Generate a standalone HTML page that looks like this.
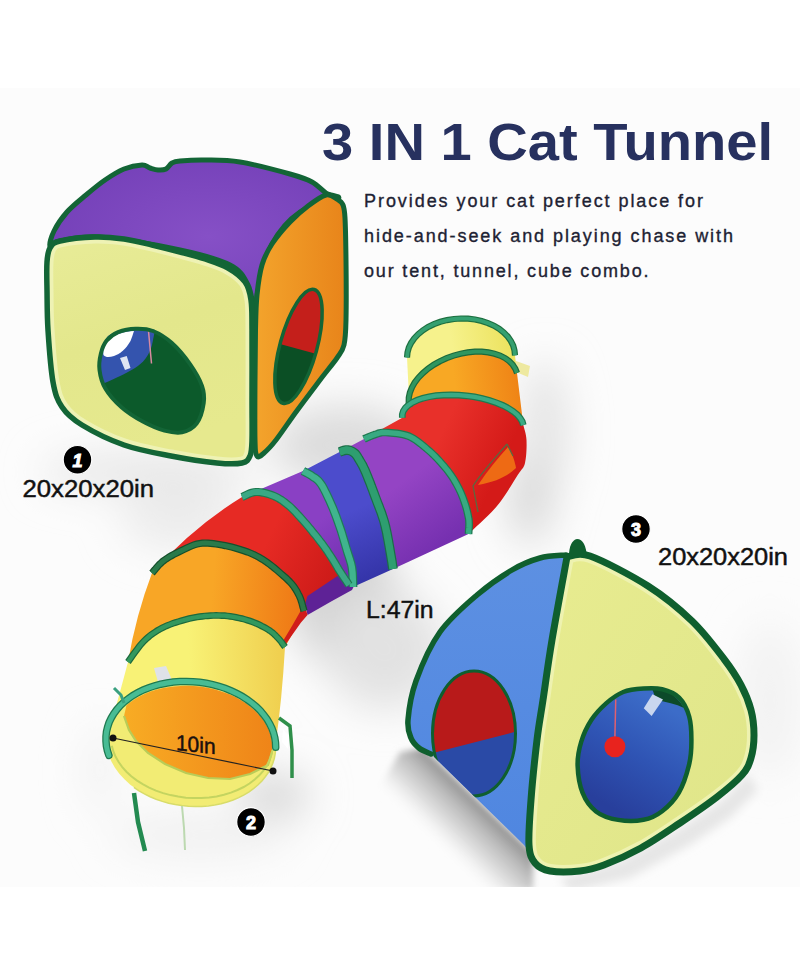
<!DOCTYPE html>
<html><head><meta charset="utf-8"><style>
html,body{margin:0;padding:0;background:#fff;}
svg{display:block;}
</style></head><body>
<svg width="800" height="977" viewBox="0 0 800 977">
<defs>
<linearGradient id="gInt" x1="0" y1="0" x2="1" y2="0"><stop offset="0" stop-color="#f8ac24"/><stop offset="1" stop-color="#ef8418"/></linearGradient>
<linearGradient id="gCubeY" x1="0" y1="0" x2="0.3" y2="1"><stop offset="0" stop-color="#e8ec98"/><stop offset="0.5" stop-color="#e3e78c"/><stop offset="1" stop-color="#e6e98e"/></linearGradient>
<linearGradient id="gCubeO" x1="0" y1="0" x2="1" y2="0"><stop offset="0" stop-color="#f3a42c"/><stop offset="1" stop-color="#e8841a"/></linearGradient>
<radialGradient id="gCubeP" cx="0.55" cy="0.5" r="0.6"><stop offset="0" stop-color="#8650c6"/><stop offset="1" stop-color="#7440b8"/></radialGradient>
<linearGradient id="gTentB" x1="0" y1="0" x2="0" y2="1"><stop offset="0" stop-color="#5d90e2"/><stop offset="1" stop-color="#4f86e0"/></linearGradient>
<linearGradient id="gTentY" x1="0" y1="0" x2="1" y2="1"><stop offset="0" stop-color="#e8ec90"/><stop offset="1" stop-color="#dfe589"/></linearGradient>
<linearGradient id="gHoleB" x1="0.7" y1="0.1" x2="0.3" y2="0.9"><stop offset="0" stop-color="#3c6cc8"/><stop offset="0.5" stop-color="#2f54b4"/><stop offset="1" stop-color="#283f9c"/></linearGradient>
<filter id="bl20" x="-50%" y="-50%" width="200%" height="200%"><feGaussianBlur stdDeviation="20"/></filter>
<filter id="bl10" x="-50%" y="-50%" width="200%" height="200%"><feGaussianBlur stdDeviation="10"/></filter>
<linearGradient id="gShT" gradientUnits="userSpaceOnUse" x1="478" y1="799" x2="432" y2="846"><stop offset="0" stop-color="#8e8e8e"/><stop offset="0.3" stop-color="#bdbdbd"/><stop offset="0.7" stop-color="#ececec"/><stop offset="1" stop-color="#ffffff" stop-opacity="0"/></linearGradient>
<filter id="bl3" x="-50%" y="-50%" width="200%" height="200%"><feGaussianBlur stdDeviation="3"/></filter>
<filter id="bl5" x="-50%" y="-50%" width="200%" height="200%"><feGaussianBlur stdDeviation="5"/></filter>
<clipPath id="photo"><rect x="0" y="0" width="800" height="887"/></clipPath>
<clipPath id="ohole"><ellipse cx="298.5" cy="346.4" rx="18.5" ry="59"/></clipPath>
<clipPath id="rhole"><ellipse cx="474" cy="733.5" rx="41.5" ry="62.5"/></clipPath>
<clipPath id="cubeYclip"><path d="M47.0,262.0 C47.5,255.0 47.8,251.5 50.0,248.0 C52.2,244.5 52.5,242.8 60.0,241.0 C67.5,239.2 84.3,237.3 95.0,237.0 C105.7,236.7 114.5,237.7 124.0,239.0 C133.5,240.3 142.7,242.8 152.0,245.0 C161.3,247.2 171.2,249.7 180.0,252.0 C188.8,254.3 197.0,256.3 205.0,259.0 C213.0,261.7 221.3,264.2 228.0,268.0 C234.7,271.8 241.2,276.7 245.0,282.0 C248.8,287.3 249.8,292.0 251.0,300.0 C252.2,308.0 251.8,313.3 252.0,330.0 C252.2,346.7 252.0,381.7 252.0,400.0 C252.0,418.3 252.3,430.7 252.0,440.0 C251.7,449.3 251.7,452.2 250.0,456.0 C248.3,459.8 247.5,461.8 242.0,463.0 C236.5,464.2 228.8,464.2 217.0,463.0 C205.2,461.8 186.5,459.0 171.0,456.0 C155.5,453.0 138.8,450.2 124.0,445.0 C109.2,439.8 92.3,431.3 82.0,425.0 C71.7,418.7 66.8,414.2 62.0,407.0 C57.2,399.8 55.3,394.8 53.0,382.0 C50.7,369.2 49.0,345.3 48.0,330.0 C47.0,314.7 47.2,301.3 47.0,290.0 C46.8,278.7 46.5,269.0 47.0,262.0 Z"/></clipPath>
<clipPath id="tentYclip"><path d="M567.0,557.0 C570.8,556.8 576.5,551.2 590.0,556.0 C603.5,560.8 631.0,575.2 648.0,586.0 C665.0,596.8 679.3,608.8 692.0,621.0 C704.7,633.2 715.8,648.3 724.0,659.0 C732.2,669.7 736.5,676.5 741.0,685.0 C745.5,693.5 748.8,701.7 751.0,710.0 C753.2,718.3 754.0,727.0 754.0,735.0 C754.0,743.0 753.0,751.3 751.0,758.0 C749.0,764.7 747.7,768.5 742.0,775.0 C736.3,781.5 727.3,789.0 717.0,797.0 C706.7,805.0 692.7,814.5 680.0,823.0 C667.3,831.5 653.7,841.0 641.0,848.0 C628.3,855.0 614.2,861.2 604.0,865.0 C593.8,868.8 589.0,870.0 580.0,871.0 C571.0,872.0 557.5,872.3 550.0,871.0 C542.5,869.7 538.5,867.3 535.0,863.0 C531.5,858.7 529.7,855.5 529.0,845.0 C528.3,834.5 529.7,817.5 531.0,800.0 C532.3,782.5 535.0,756.7 537.0,740.0 C539.0,723.3 540.5,716.7 543.0,700.0 C545.5,683.3 548.0,663.8 552.0,640.0 C556.0,616.2 564.5,570.8 567.0,557.0 Z"/></clipPath>
<clipPath id="tentBclip"><path d="M566.0,555.0 C561.7,555.5 549.0,555.5 540.0,558.0 C531.0,560.5 522.5,563.8 512.0,570.0 C501.5,576.2 489.0,584.7 477.0,595.0 C465.0,605.3 450.2,617.7 440.0,632.0 C429.8,646.3 421.3,666.3 416.0,681.0 C410.7,695.7 408.8,710.5 408.0,720.0 C407.2,729.5 409.2,733.3 411.0,738.0 C412.8,742.7 415.7,745.3 419.0,748.0 C422.3,750.7 429.0,753.0 431.0,754.0 L524,845 C528,850 531,855 531,860 C530.7,857.5 529.0,855.0 529.0,845.0 C529.0,835.0 529.7,817.5 531.0,800.0 C532.3,782.5 535.0,756.7 537.0,740.0 C539.0,723.3 540.5,716.7 543.0,700.0 C545.5,683.3 548.2,664.2 552.0,640.0 C555.8,615.8 563.7,569.2 566.0,555.0 Z"/></clipPath>
<linearGradient id="sg0" gradientUnits="userSpaceOnUse" x1="408.2" y1="382.2" x2="516.0" y2="364.2"><stop offset="0" stop-color="#f6f28c"/><stop offset="0.45" stop-color="#f6f28c"/><stop offset="1" stop-color="#ece25e"/></linearGradient>
<linearGradient id="sg1" gradientUnits="userSpaceOnUse" x1="405.9" y1="412.4" x2="520.1" y2="399.1"><stop offset="0" stop-color="#f8a824"/><stop offset="0.45" stop-color="#f8a824"/><stop offset="1" stop-color="#ef8416"/></linearGradient>
<linearGradient id="sg2" gradientUnits="userSpaceOnUse" x1="383.1" y1="428.1" x2="495.0" y2="479.9"><stop offset="0" stop-color="#e8302a"/><stop offset="0.45" stop-color="#e8302a"/><stop offset="1" stop-color="#d41a18"/></linearGradient>
<linearGradient id="sg3" gradientUnits="userSpaceOnUse" x1="351.6" y1="444.9" x2="430.6" y2="551.7"><stop offset="0" stop-color="#9444c4"/><stop offset="0.45" stop-color="#9444c4"/><stop offset="1" stop-color="#7630b0"/></linearGradient>
<linearGradient id="sg4" gradientUnits="userSpaceOnUse" x1="321.2" y1="461.2" x2="373.1" y2="578.4"><stop offset="0" stop-color="#4c4ccc"/><stop offset="0.45" stop-color="#4c4ccc"/><stop offset="1" stop-color="#3434a8"/></linearGradient>
<linearGradient id="sg5" gradientUnits="userSpaceOnUse" x1="272.5" y1="484.0" x2="350.8" y2="587.5"><stop offset="0" stop-color="#8a40c4"/><stop offset="0.45" stop-color="#8a40c4"/><stop offset="1" stop-color="#6c2cac"/></linearGradient>
<linearGradient id="sg6" gradientUnits="userSpaceOnUse" x1="197.0" y1="535.0" x2="327.7" y2="599.0"><stop offset="0" stop-color="#e62a24"/><stop offset="0.45" stop-color="#e62a24"/><stop offset="1" stop-color="#cc1a18"/></linearGradient>
<linearGradient id="sg7" gradientUnits="userSpaceOnUse" x1="140.0" y1="617.5" x2="295.4" y2="629.0"><stop offset="0" stop-color="#f8a626"/><stop offset="0.45" stop-color="#f8a626"/><stop offset="1" stop-color="#ef7a16"/></linearGradient>
<linearGradient id="sg8" gradientUnits="userSpaceOnUse" x1="117.0" y1="702.0" x2="280.3" y2="695.3"><stop offset="0" stop-color="#f8f276"/><stop offset="0.45" stop-color="#f8f276"/><stop offset="1" stop-color="#f0d050"/></linearGradient>
</defs>
<rect width="800" height="977" fill="#ffffff"/>
<!-- background shading -->
<rect x="0" y="88" width="800" height="799" fill="#fcfcfc"/>
<g clip-path="url(#photo)">
<g filter="url(#bl20)">
<ellipse cx="345" cy="600" rx="55" ry="70" fill="#d2d2d2"/>
<ellipse cx="385" cy="650" rx="60" ry="60" fill="#e2e2e2"/>
<ellipse cx="545" cy="430" rx="22" ry="70" fill="#e2e2e2"/>
<ellipse cx="530" cy="500" rx="22" ry="45" fill="#d8d8d8"/>
<ellipse cx="345" cy="445" rx="75" ry="40" fill="#dcdcdc"/>
<ellipse cx="180" cy="520" rx="60" ry="30" fill="#ececec"/>
<ellipse cx="150" cy="472" rx="110" ry="22" fill="#e8e8e8"/>
<ellipse cx="100" cy="770" rx="14" ry="45" fill="#f0f0f0"/>
<ellipse cx="275" cy="795" rx="35" ry="22" fill="#d6d6d6"/>
<ellipse cx="200" cy="835" rx="90" ry="22" fill="#f0f0f0"/>
<ellipse cx="770" cy="700" rx="30" ry="80" fill="#f2f2f2"/>
</g>
<path d="M424,748 L533,853 L533,890 L455,890 L372,800 L400,752 Z" fill="url(#gShT)" filter="url(#bl3)"/>
<path d="M560,878 L620,861 L680,828 L722,800 L748,774 L758,790 L730,818 L690,845 L630,878 L570,892 Z" fill="#e6e6e6" filter="url(#bl5)"/>
</g>
<!-- CUBE -->
<g id="cube" stroke-linejoin="round">
<path d="M50.0,246.0 C49.0,244.3 51.2,236.7 54.0,231.0 C56.8,225.3 61.7,218.0 67.0,212.0 C72.3,206.0 79.7,200.3 86.0,195.0 C92.3,189.7 98.7,184.3 105.0,180.0 C111.3,175.7 117.8,171.5 124.0,169.0 C130.2,166.5 137.7,165.2 142.0,165.0 C146.3,164.8 147.3,167.2 150.0,168.0 C152.7,168.8 155.3,169.8 158.0,170.0 C160.7,170.2 163.7,170.2 166.0,169.0 C168.3,167.8 169.7,164.3 172.0,163.0 C174.3,161.7 174.5,161.5 180.0,161.0 C185.5,160.5 195.0,159.8 205.0,160.0 C215.0,160.2 225.8,159.7 240.0,162.0 C254.2,164.3 278.0,170.7 290.0,174.0 C302.0,177.3 306.0,178.8 312.0,182.0 C318.0,185.2 321.7,190.2 326.0,193.0 C330.3,195.8 342.3,195.8 338.0,199.0 C333.7,202.2 311.0,204.5 300.0,212.0 C289.0,219.5 279.0,231.0 272.0,244.0 C265.0,257.0 260.8,278.5 258.0,290.0 C255.2,301.5 256.7,313.8 255.0,313.0 C253.3,312.2 252.2,293.0 248.0,285.0 C243.8,277.0 241.3,270.8 230.0,265.0 C218.7,259.2 201.7,254.7 180.0,250.0 C158.3,245.3 120.0,238.5 100.0,237.0 C80.0,235.5 68.3,239.5 60.0,241.0 C51.7,242.5 51.0,247.7 50.0,246.0 Z" fill="url(#gCubeP)" stroke="#136536" stroke-width="5"/>
<path d="M326.0,195.0 C330.8,193.8 334.2,197.3 337.0,199.0 C339.8,200.7 341.7,201.8 343.0,205.0 C344.3,208.2 344.5,208.8 345.0,218.0 C345.5,227.2 345.8,243.0 346.0,260.0 C346.2,277.0 346.3,305.8 346.0,320.0 C345.7,334.2 345.5,338.7 344.0,345.0 C342.5,351.3 341.0,352.2 337.0,358.0 C333.0,363.8 326.8,371.0 320.0,380.0 C313.2,389.0 303.3,402.0 296.0,412.0 C288.7,422.0 281.3,433.2 276.0,440.0 C270.7,446.8 267.2,450.3 264.0,453.0 C260.8,455.7 258.5,458.2 257.0,456.0 C255.5,453.8 255.3,452.7 255.0,440.0 C254.7,427.3 254.9,398.3 255.0,380.0 C255.1,361.7 255.2,344.2 255.5,330.0 C255.8,315.8 255.9,305.8 257.0,295.0 C258.1,284.2 259.5,273.5 262.0,265.0 C264.5,256.5 267.3,251.2 272.0,244.0 C276.7,236.8 284.0,228.3 290.0,222.0 C296.0,215.7 302.0,210.5 308.0,206.0 C314.0,201.5 321.2,196.2 326.0,195.0 Z" fill="url(#gCubeO)" stroke="#136536" stroke-width="5"/>
<path d="M47.0,262.0 C47.5,255.0 47.8,251.5 50.0,248.0 C52.2,244.5 52.5,242.8 60.0,241.0 C67.5,239.2 84.3,237.3 95.0,237.0 C105.7,236.7 114.5,237.7 124.0,239.0 C133.5,240.3 142.7,242.8 152.0,245.0 C161.3,247.2 171.2,249.7 180.0,252.0 C188.8,254.3 197.0,256.3 205.0,259.0 C213.0,261.7 221.3,264.2 228.0,268.0 C234.7,271.8 241.2,276.7 245.0,282.0 C248.8,287.3 249.8,292.0 251.0,300.0 C252.2,308.0 251.8,313.3 252.0,330.0 C252.2,346.7 252.0,381.7 252.0,400.0 C252.0,418.3 252.3,430.7 252.0,440.0 C251.7,449.3 251.7,452.2 250.0,456.0 C248.3,459.8 247.5,461.8 242.0,463.0 C236.5,464.2 228.8,464.2 217.0,463.0 C205.2,461.8 186.5,459.0 171.0,456.0 C155.5,453.0 138.8,450.2 124.0,445.0 C109.2,439.8 92.3,431.3 82.0,425.0 C71.7,418.7 66.8,414.2 62.0,407.0 C57.2,399.8 55.3,394.8 53.0,382.0 C50.7,369.2 49.0,345.3 48.0,330.0 C47.0,314.7 47.2,301.3 47.0,290.0 C46.8,278.7 46.5,269.0 47.0,262.0 Z" fill="url(#gCubeY)"/>
<path d="M47.0,262.0 C47.5,255.0 47.8,251.5 50.0,248.0 C52.2,244.5 52.5,242.8 60.0,241.0 C67.5,239.2 84.3,237.3 95.0,237.0 C105.7,236.7 114.5,237.7 124.0,239.0 C133.5,240.3 142.7,242.8 152.0,245.0 C161.3,247.2 171.2,249.7 180.0,252.0 C188.8,254.3 197.0,256.3 205.0,259.0 C213.0,261.7 221.3,264.2 228.0,268.0 C234.7,271.8 241.2,276.7 245.0,282.0 C248.8,287.3 249.8,292.0 251.0,300.0 C252.2,308.0 251.8,313.3 252.0,330.0 C252.2,346.7 252.0,381.7 252.0,400.0 C252.0,418.3 252.3,430.7 252.0,440.0 C251.7,449.3 251.7,452.2 250.0,456.0 C248.3,459.8 247.5,461.8 242.0,463.0 C236.5,464.2 228.8,464.2 217.0,463.0 C205.2,461.8 186.5,459.0 171.0,456.0 C155.5,453.0 138.8,450.2 124.0,445.0 C109.2,439.8 92.3,431.3 82.0,425.0 C71.7,418.7 66.8,414.2 62.0,407.0 C57.2,399.8 55.3,394.8 53.0,382.0 C50.7,369.2 49.0,345.3 48.0,330.0 C47.0,314.7 47.2,301.3 47.0,290.0 C46.8,278.7 46.5,269.0 47.0,262.0 Z" fill="none" stroke="#eef2b4" stroke-width="13" clip-path="url(#cubeYclip)"/>
<path d="M47.0,262.0 C47.5,255.0 47.8,251.5 50.0,248.0 C52.2,244.5 52.5,242.8 60.0,241.0 C67.5,239.2 84.3,237.3 95.0,237.0 C105.7,236.7 114.5,237.7 124.0,239.0 C133.5,240.3 142.7,242.8 152.0,245.0 C161.3,247.2 171.2,249.7 180.0,252.0 C188.8,254.3 197.0,256.3 205.0,259.0 C213.0,261.7 221.3,264.2 228.0,268.0 C234.7,271.8 241.2,276.7 245.0,282.0 C248.8,287.3 249.8,292.0 251.0,300.0 C252.2,308.0 251.8,313.3 252.0,330.0 C252.2,346.7 252.0,381.7 252.0,400.0 C252.0,418.3 252.3,430.7 252.0,440.0 C251.7,449.3 251.7,452.2 250.0,456.0 C248.3,459.8 247.5,461.8 242.0,463.0 C236.5,464.2 228.8,464.2 217.0,463.0 C205.2,461.8 186.5,459.0 171.0,456.0 C155.5,453.0 138.8,450.2 124.0,445.0 C109.2,439.8 92.3,431.3 82.0,425.0 C71.7,418.7 66.8,414.2 62.0,407.0 C57.2,399.8 55.3,394.8 53.0,382.0 C50.7,369.2 49.0,345.3 48.0,330.0 C47.0,314.7 47.2,301.3 47.0,290.0 C46.8,278.7 46.5,269.0 47.0,262.0 Z" fill="none" stroke="#136536" stroke-width="5.5"/>
<path d="M99.5,369.9 C98.7,364.1 99.6,358.8 100.8,353.9 C101.9,349.1 103.6,344.5 106.5,340.8 C109.4,337.2 113.3,334.2 118.1,332.1 C123.0,330.1 129.8,328.8 135.6,328.7 C141.4,328.5 147.0,328.6 153.0,331.0 C159.0,333.4 165.4,337.2 171.6,342.8 C177.8,348.3 185.1,357.1 190.2,364.3 C195.2,371.5 199.8,379.3 202.0,385.8 C204.3,392.3 204.6,396.9 203.7,403.2 C202.8,409.5 200.2,418.8 196.6,423.6 C192.9,428.5 187.3,431.1 182.0,432.3 C176.6,433.4 171.0,432.3 164.5,430.6 C158.0,428.8 150.1,425.4 142.9,421.5 C135.8,417.7 127.8,412.7 121.5,407.2 C115.3,401.7 109.1,394.9 105.5,388.7 C101.8,382.5 100.2,375.7 99.5,369.9 Z" fill="#0c5a2b"/>
<path d="M102,384 C112,380 125,374 135,368 C143,363 149,356 152,345 L155,330 C140,326 120,328 108,336 C100,346 98,362 100,375 Z" fill="#3454ae"/>
<path d="M103.5,355 C106,358 110,357 114,356 C120,354 126,349 130.5,341 C132,337 133,334 134,331 C124,331 112,335 106,342 C103,347 103,351 103.5,355 Z" fill="#ffffff"/>
<path d="M120,358 L126.75,356 L130.5,368 L125,370 Z" fill="#dfe5f2"/>
<path d="M148.5,331 L151.5,363.5" stroke="#d88aa0" stroke-width="1.5"/>
<path d="M99.5,369.9 C98.7,364.1 99.6,358.8 100.8,353.9 C101.9,349.1 103.6,344.5 106.5,340.8 C109.4,337.2 113.3,334.2 118.1,332.1 C123.0,330.1 129.8,328.8 135.6,328.7 C141.4,328.5 147.0,328.6 153.0,331.0 C159.0,333.4 165.4,337.2 171.6,342.8 C177.8,348.3 185.1,357.1 190.2,364.3 C195.2,371.5 199.8,379.3 202.0,385.8 C204.3,392.3 204.6,396.9 203.7,403.2 C202.8,409.5 200.2,418.8 196.6,423.6 C192.9,428.5 187.3,431.1 182.0,432.3 C176.6,433.4 171.0,432.3 164.5,430.6 C158.0,428.8 150.1,425.4 142.9,421.5 C135.8,417.7 127.8,412.7 121.5,407.2 C115.3,401.7 109.1,394.9 105.5,388.7 C101.8,382.5 100.2,375.7 99.5,369.9 Z" fill="none" stroke="#136536" stroke-width="4"/>
<g transform="rotate(15.3 298.5 346.4)">
<ellipse cx="298.5" cy="346.4" rx="18.5" ry="59" fill="#0b4f25"/>
<path d="M280,349 L317,349 L317,280 L280,280 Z" fill="#c41f1b" clip-path="url(#ohole)"/>
<ellipse cx="298.5" cy="346.4" rx="18.5" ry="59" fill="none" stroke="#136536" stroke-width="3.5"/>
</g>
</g>

<!-- TUNNEL -->
<g id="tunnel">
<path d="M407.0,357.5 L407.5,352.5 L408.8,347.6 L411.1,342.9 L414.2,338.4 L418.2,334.2 L422.8,330.4 L428.1,327.0 L434.0,324.1 L440.3,321.8 L447.0,320.1 L454.0,319.0 L461.0,318.5 L468.0,318.7 L475.0,319.5 L481.7,321.0 L488.0,323.1 L493.9,325.7 L499.2,328.9 L503.8,332.5 L507.8,336.6 L510.9,341.0 L513.2,345.6 L514.5,350.5 L515.0,355.4 L517.0,373.0 L517.0,373.0 L515.3,368.7 L512.7,364.7 L509.2,361.1 L505.0,358.1 L500.0,355.6 L494.4,353.7 L488.3,352.4 L481.8,351.7 L474.9,351.7 L467.8,352.4 L460.7,353.7 L453.6,355.6 L446.7,358.1 L440.0,361.2 L433.8,364.7 L428.0,368.7 L422.9,373.1 L418.4,377.7 L414.7,382.5 L411.9,387.5 L409.9,392.5 L408.8,397.5 L408.7,402.4 L409.5,407.0 Z" fill="url(#sg0)"/>
<path d="M409.5,407.0 L408.7,402.4 L408.8,397.5 L409.9,392.5 L411.9,387.5 L414.7,382.5 L418.4,377.7 L422.9,373.1 L428.0,368.7 L433.8,364.7 L440.0,361.2 L446.7,358.1 L453.6,355.6 L460.7,353.7 L467.8,352.4 L474.9,351.7 L481.8,351.7 L488.3,352.4 L494.4,353.7 L500.0,355.6 L505.0,358.1 L509.2,361.1 L512.7,364.7 L515.3,368.7 L517.0,373.0 L523.3,425.1 L523.3,425.1 L522.3,421.6 L520.2,418.2 L517.2,414.7 L513.2,411.4 L508.4,408.3 L502.8,405.4 L496.5,402.8 L489.6,400.5 L482.3,398.5 L474.6,396.9 L466.7,395.8 L458.8,395.1 L450.9,394.8 L443.3,395.1 L436.0,395.7 L429.1,396.8 L422.8,398.3 L417.2,400.2 L412.4,402.5 L408.4,405.1 L405.4,408.0 L403.3,411.1 L402.3,414.4 L402.3,417.8 Z" fill="url(#sg1)"/>
<path d="M402.3,417.8 L402.3,414.4 L403.3,411.1 L405.4,408.0 L408.4,405.1 L412.4,402.5 L417.2,400.2 L422.8,398.3 L429.1,396.8 L436.0,395.7 L443.3,395.1 L450.9,394.8 L458.8,395.1 L466.7,395.8 L474.6,396.9 L482.3,398.5 L489.6,400.5 L496.5,402.8 L502.8,405.4 L508.4,408.3 L513.2,411.4 L517.2,414.7 L520.2,418.2 L522.3,421.6 L523.3,425.1 C523.8,427.6 526.2,433.7 526.5,440.0 C526.8,446.3 526.5,457.2 525.0,463.0 C523.5,468.8 522.4,467.8 517.7,475.0 C513.0,482.2 505.2,496.2 497.0,506.0 C488.8,515.8 473.2,529.3 468.5,534.0 L468.5,534.0 L468.6,532.9 L468.7,531.4 L468.8,529.6 L469.0,527.7 L469.1,525.5 L469.1,523.3 L469.0,521.0 L468.8,518.8 L468.3,516.4 L467.8,513.9 L467.2,511.3 L466.5,508.6 L465.7,505.9 L464.8,503.2 L463.9,500.5 L463.0,498.0 L462.0,495.5 L461.0,493.1 L459.9,490.7 L458.7,488.3 L457.5,486.0 L456.3,483.7 L455.0,481.5 L453.8,479.4 L452.5,477.4 L451.2,475.4 L449.8,473.5 L448.5,471.7 L447.1,469.9 L445.6,468.1 L444.1,466.3 L442.5,464.4 L440.8,462.5 L439.1,460.6 L437.3,458.7 L435.5,456.8 L433.6,454.9 L431.6,453.0 L429.6,451.2 L427.5,449.4 L425.4,447.6 L423.2,445.8 L420.9,443.9 L418.6,442.1 L416.2,440.4 L413.8,438.8 L411.3,437.4 L408.8,436.2 L406.0,435.3 L403.1,434.5 L400.0,433.9 L396.9,433.4 L393.8,433.1 L391.0,432.8 L388.3,432.6 L386.0,432.5 L384.1,432.5 L382.4,432.5 L381.0,432.7 L379.8,433.0 L378.6,433.3 L377.5,433.7 L376.3,434.1 L375.0,434.5 L373.5,435.0 L372.0,435.6 L370.4,436.2 L368.8,436.9 L367.3,437.5 L366.0,438.1 L364.8,438.6 L364.0,439.0 Z" fill="url(#sg2)"/>
<path d="M364.0,439.0 L364.8,438.6 L366.0,438.1 L367.3,437.5 L368.8,436.9 L370.4,436.2 L372.0,435.6 L373.5,435.0 L375.0,434.5 L376.3,434.1 L377.5,433.7 L378.6,433.3 L379.8,433.0 L381.0,432.7 L382.4,432.5 L384.1,432.5 L386.0,432.5 L388.3,432.6 L391.0,432.8 L393.8,433.1 L396.9,433.4 L400.0,433.9 L403.1,434.5 L406.0,435.3 L408.8,436.2 L411.3,437.4 L413.8,438.8 L416.2,440.4 L418.6,442.1 L420.9,443.9 L423.2,445.8 L425.4,447.6 L427.5,449.4 L429.6,451.2 L431.6,453.0 L433.6,454.9 L435.5,456.8 L437.3,458.7 L439.1,460.6 L440.8,462.5 L442.5,464.4 L444.1,466.3 L445.6,468.1 L447.1,469.9 L448.5,471.7 L449.8,473.5 L451.2,475.4 L452.5,477.4 L453.8,479.4 L455.0,481.5 L456.3,483.7 L457.5,486.0 L458.7,488.3 L459.9,490.7 L461.0,493.1 L462.0,495.5 L463.0,498.0 L463.9,500.5 L464.8,503.2 L465.7,505.9 L466.5,508.6 L467.2,511.3 L467.8,513.9 L468.3,516.4 L468.8,518.8 L469.0,521.0 L469.1,523.3 L469.1,525.5 L469.0,527.7 L468.8,529.6 L468.7,531.4 L468.6,532.9 L468.5,534.0 L393.0,569.0 L393.0,569.0 L392.8,567.6 L392.5,565.9 L392.2,563.9 L391.9,561.6 L391.4,559.0 L391.0,556.3 L390.5,553.5 L390.0,550.6 L389.5,547.5 L388.9,544.2 L388.3,540.7 L387.6,537.0 L386.9,533.3 L386.1,529.6 L385.3,526.0 L384.4,522.5 L383.4,519.1 L382.3,515.8 L381.2,512.4 L379.9,509.1 L378.7,505.9 L377.4,502.6 L376.2,499.4 L375.0,496.2 L373.8,493.0 L372.6,489.7 L371.3,486.4 L370.1,483.1 L368.8,480.0 L367.7,477.0 L366.6,474.3 L365.6,471.9 L364.7,469.9 L363.9,468.2 L363.2,466.7 L362.6,465.4 L361.9,464.3 L361.3,463.2 L360.7,462.1 L360.0,461.0 L359.3,459.8 L358.6,458.7 L358.0,457.6 L357.3,456.5 L356.6,455.5 L355.9,454.6 L355.2,453.7 L354.4,453.0 L353.6,452.4 L352.7,451.8 L351.8,451.3 L350.8,450.9 L349.9,450.5 L348.9,450.3 L347.9,450.1 L347.0,450.0 L346.0,450.0 L345.0,450.2 L343.9,450.5 L342.8,450.8 L341.8,451.2 L340.9,451.5 L340.1,451.8 L339.5,452.0 Z" fill="url(#sg3)"/>
<path d="M339.5,452.0 L340.1,451.8 L340.9,451.5 L341.8,451.2 L342.8,450.8 L343.9,450.5 L345.0,450.2 L346.0,450.0 L347.0,450.0 L347.9,450.1 L348.9,450.3 L349.9,450.5 L350.8,450.9 L351.8,451.3 L352.7,451.8 L353.6,452.4 L354.4,453.0 L355.2,453.7 L355.9,454.6 L356.6,455.5 L357.3,456.5 L358.0,457.6 L358.6,458.7 L359.3,459.8 L360.0,461.0 L360.7,462.1 L361.3,463.2 L361.9,464.3 L362.6,465.4 L363.2,466.7 L363.9,468.2 L364.7,469.9 L365.6,471.9 L366.6,474.3 L367.7,477.0 L368.8,480.0 L370.1,483.1 L371.3,486.4 L372.6,489.7 L373.8,493.0 L375.0,496.2 L376.2,499.4 L377.4,502.6 L378.7,505.9 L379.9,509.1 L381.2,512.4 L382.3,515.8 L383.4,519.1 L384.4,522.5 L385.3,526.0 L386.1,529.6 L386.9,533.3 L387.6,537.0 L388.3,540.7 L388.9,544.2 L389.5,547.5 L390.0,550.6 L390.5,553.5 L391.0,556.3 L391.4,559.0 L391.9,561.6 L392.2,563.9 L392.5,565.9 L392.8,567.6 L393.0,569.0 L353.0,587.0 L353.0,587.0 L353.0,585.5 L352.9,583.6 L352.9,581.2 L352.8,578.6 L352.7,575.9 L352.6,573.1 L352.3,570.4 L352.0,568.0 L351.6,565.8 L351.1,563.6 L350.5,561.6 L349.9,559.5 L349.2,557.4 L348.5,555.2 L347.7,552.9 L347.0,550.5 L346.2,547.9 L345.4,545.1 L344.6,542.3 L343.7,539.3 L342.8,536.3 L341.9,533.3 L341.0,530.4 L340.0,527.5 L339.0,524.7 L338.0,521.8 L337.0,519.0 L336.0,516.1 L334.9,513.3 L333.8,510.5 L332.7,507.7 L331.5,505.0 L330.3,502.2 L329.0,499.3 L327.6,496.4 L326.3,493.6 L324.9,490.9 L323.6,488.3 L322.3,486.0 L321.0,484.0 L319.8,482.4 L318.6,481.0 L317.5,479.9 L316.4,479.0 L315.3,478.2 L314.2,477.5 L313.1,476.8 L312.0,476.0 L310.8,475.2 L309.5,474.4 L308.2,473.7 L306.9,473.0 L305.7,472.4 L304.6,471.8 L303.7,471.4 L303.0,471.0 Z" fill="url(#sg4)"/>
<path d="M303.0,471.0 L303.7,471.4 L304.6,471.8 L305.7,472.4 L306.9,473.0 L308.2,473.7 L309.5,474.4 L310.8,475.2 L312.0,476.0 L313.1,476.8 L314.2,477.5 L315.3,478.2 L316.4,479.0 L317.5,479.9 L318.6,481.0 L319.8,482.4 L321.0,484.0 L322.3,486.0 L323.6,488.3 L324.9,490.9 L326.3,493.6 L327.6,496.4 L329.0,499.3 L330.3,502.2 L331.5,505.0 L332.7,507.7 L333.8,510.5 L334.9,513.3 L336.0,516.1 L337.0,519.0 L338.0,521.8 L339.0,524.7 L340.0,527.5 L341.0,530.4 L341.9,533.3 L342.8,536.3 L343.7,539.3 L344.6,542.3 L345.4,545.1 L346.2,547.9 L347.0,550.5 L347.7,552.9 L348.5,555.2 L349.2,557.4 L349.9,559.5 L350.5,561.6 L351.1,563.6 L351.6,565.8 L352.0,568.0 L352.3,570.4 L352.6,573.1 L352.7,575.9 L352.8,578.6 L352.9,581.2 L352.9,583.6 L353.0,585.5 L353.0,587.0 L349.0,585.0 L349.0,585.0 L348.3,584.0 L347.4,582.6 L346.3,580.9 L345.0,579.1 L343.7,577.2 L342.4,575.2 L341.2,573.3 L340.0,571.5 L338.9,569.8 L337.8,568.0 L336.8,566.2 L335.7,564.4 L334.7,562.7 L333.6,560.9 L332.6,559.2 L331.5,557.5 L330.5,555.9 L329.4,554.3 L328.4,552.8 L327.4,551.2 L326.4,549.7 L325.3,548.2 L324.2,546.6 L323.0,545.0 L321.8,543.3 L320.4,541.6 L319.1,539.9 L317.7,538.1 L316.3,536.3 L314.9,534.5 L313.4,532.8 L312.0,531.0 L310.5,529.2 L309.1,527.5 L307.6,525.7 L306.1,523.9 L304.5,522.1 L303.0,520.4 L301.5,518.7 L300.0,517.0 L298.5,515.4 L297.0,513.8 L295.6,512.2 L294.1,510.7 L292.6,509.2 L291.1,507.7 L289.6,506.3 L288.0,505.0 L286.4,503.7 L284.7,502.4 L283.1,501.2 L281.4,500.0 L279.6,498.9 L277.8,497.8 L276.0,496.9 L274.0,496.0 L271.9,495.2 L269.7,494.4 L267.4,493.7 L265.0,493.1 L262.6,492.6 L260.3,492.2 L258.1,492.0 L256.0,492.0 L254.0,492.2 L251.9,492.7 L249.8,493.4 L247.9,494.2 L246.0,495.1 L244.4,495.9 L243.1,496.6 L242.0,497.0 Z" fill="url(#sg5)"/>
<path d="M242.0,497.0 L243.1,496.6 L244.4,495.9 L246.0,495.1 L247.9,494.2 L249.8,493.4 L251.9,492.7 L254.0,492.2 L256.0,492.0 L258.1,492.0 L260.3,492.2 L262.6,492.6 L265.0,493.1 L267.4,493.7 L269.7,494.4 L271.9,495.2 L274.0,496.0 L276.0,496.9 L277.8,497.8 L279.6,498.9 L281.4,500.0 L283.1,501.2 L284.7,502.4 L286.4,503.7 L288.0,505.0 L289.6,506.3 L291.1,507.7 L292.6,509.2 L294.1,510.7 L295.6,512.2 L297.0,513.8 L298.5,515.4 L300.0,517.0 L301.5,518.7 L303.0,520.4 L304.5,522.1 L306.1,523.9 L307.6,525.7 L309.1,527.5 L310.5,529.2 L312.0,531.0 L313.4,532.8 L314.9,534.5 L316.3,536.3 L317.7,538.1 L319.1,539.9 L320.4,541.6 L321.8,543.3 L323.0,545.0 L324.2,546.6 L325.3,548.2 L326.4,549.7 L327.4,551.2 L328.4,552.8 L329.4,554.3 L330.5,555.9 L331.5,557.5 L332.6,559.2 L333.6,560.9 L334.7,562.7 L335.7,564.4 L336.8,566.2 L337.8,568.0 L338.9,569.8 L340.0,571.5 L341.2,573.3 L342.4,575.2 L343.7,577.2 L345.0,579.1 L346.3,580.9 L347.4,582.6 L348.3,584.0 L349.0,585.0 L304.0,611.0 L304.0,611.0 L303.7,609.9 L303.4,608.5 L302.9,606.9 L302.4,605.0 L301.9,603.0 L301.3,601.1 L300.7,599.2 L300.0,597.5 L299.3,595.9 L298.5,594.4 L297.7,592.8 L296.9,591.3 L296.0,589.8 L295.1,588.4 L294.1,586.9 L293.0,585.5 L291.9,584.1 L290.8,582.9 L289.6,581.6 L288.4,580.4 L287.1,579.1 L285.7,577.8 L284.2,576.5 L282.5,575.0 L280.6,573.4 L278.6,571.6 L276.5,569.8 L274.2,567.9 L271.9,566.0 L269.5,564.2 L267.2,562.5 L265.0,561.0 L262.9,559.6 L260.8,558.4 L258.8,557.2 L256.8,556.1 L254.6,555.0 L252.4,554.0 L250.1,553.0 L247.5,552.0 L244.7,551.0 L241.6,550.0 L238.4,549.0 L235.1,548.0 L231.7,547.1 L228.3,546.3 L225.1,545.6 L222.0,545.0 L219.1,544.5 L216.2,544.0 L213.4,543.6 L210.6,543.3 L207.9,543.1 L205.1,543.0 L202.4,543.2 L199.7,543.5 L196.9,544.1 L194.1,544.9 L191.3,546.0 L188.5,547.2 L185.8,548.5 L183.1,549.8 L180.6,551.0 L178.2,552.2 L176.0,553.3 L173.8,554.4 L171.8,555.5 L169.8,556.6 L168.0,557.8 L166.2,558.9 L164.5,560.1 L162.8,561.4 L161.2,562.8 L159.5,564.4 L157.9,566.1 L156.4,567.8 L155.1,569.4 L153.8,570.9 L152.8,572.1 L152.0,573.0 Q193,527 242.0,497.0 Z" fill="url(#sg6)"/>
<path d="M152.0,573.0 L152.8,572.1 L153.8,570.9 L155.1,569.4 L156.4,567.8 L157.9,566.1 L159.5,564.4 L161.2,562.8 L162.8,561.4 L164.5,560.1 L166.2,558.9 L168.0,557.8 L169.8,556.6 L171.8,555.5 L173.8,554.4 L176.0,553.3 L178.2,552.2 L180.6,551.0 L183.1,549.8 L185.8,548.5 L188.5,547.2 L191.3,546.0 L194.1,544.9 L196.9,544.1 L199.7,543.5 L202.4,543.2 L205.1,543.0 L207.9,543.1 L210.6,543.3 L213.4,543.6 L216.2,544.0 L219.1,544.5 L222.0,545.0 L225.1,545.6 L228.3,546.3 L231.7,547.1 L235.1,548.0 L238.4,549.0 L241.6,550.0 L244.7,551.0 L247.5,552.0 L250.1,553.0 L252.4,554.0 L254.6,555.0 L256.8,556.1 L258.8,557.2 L260.8,558.4 L262.9,559.6 L265.0,561.0 L267.2,562.5 L269.5,564.2 L271.9,566.0 L274.2,567.9 L276.5,569.8 L278.6,571.6 L280.6,573.4 L282.5,575.0 L284.2,576.5 L285.7,577.8 L287.1,579.1 L288.4,580.4 L289.6,581.6 L290.8,582.9 L291.9,584.1 L293.0,585.5 L294.1,586.9 L295.1,588.4 L296.0,589.8 L296.9,591.3 L297.7,592.8 L298.5,594.4 L299.3,595.9 L300.0,597.5 L300.7,599.2 L301.3,601.1 L301.9,603.0 L302.4,605.0 L302.9,606.9 L303.4,608.5 L303.7,609.9 L304.0,611.0 Q296,628 285.0,647.0 L285.0,647.0 L284.5,646.3 L283.8,645.4 L283.0,644.3 L282.1,643.0 L281.2,641.7 L280.1,640.4 L279.1,639.2 L278.0,638.0 L276.9,636.9 L275.9,635.8 L274.8,634.8 L273.7,633.7 L272.5,632.7 L271.1,631.6 L269.7,630.6 L268.0,629.5 L266.2,628.4 L264.2,627.3 L262.0,626.2 L259.8,625.0 L257.4,623.9 L255.0,622.9 L252.5,621.9 L250.0,621.0 L247.4,620.2 L244.7,619.4 L241.9,618.6 L239.0,618.0 L236.1,617.4 L233.2,616.8 L230.3,616.4 L227.5,616.0 L224.7,615.7 L221.8,615.6 L219.0,615.5 L216.2,615.4 L213.3,615.5 L210.5,615.6 L207.7,615.8 L205.0,616.0 L202.3,616.3 L199.7,616.6 L197.1,617.0 L194.5,617.5 L191.9,618.0 L189.3,618.6 L186.7,619.3 L184.0,620.0 L181.3,620.8 L178.5,621.6 L175.6,622.5 L172.8,623.4 L170.0,624.5 L167.2,625.6 L164.6,626.7 L162.0,628.0 L159.5,629.3 L157.2,630.7 L154.9,632.2 L152.6,633.7 L150.4,635.3 L148.3,637.1 L146.1,639.0 L144.0,641.0 L141.8,643.4 L139.5,646.2 L137.2,649.2 L134.9,652.3 L132.7,655.3 L130.8,658.0 L129.2,660.3 L128.0,662.0 Q136,615 152.0,573.0 Z" fill="url(#sg7)"/>
<path d="M128.0,662.0 L129.2,660.3 L130.8,658.0 L132.7,655.3 L134.9,652.3 L137.2,649.2 L139.5,646.2 L141.8,643.4 L144.0,641.0 L146.1,639.0 L148.3,637.1 L150.4,635.3 L152.6,633.7 L154.9,632.2 L157.2,630.7 L159.5,629.3 L162.0,628.0 L164.6,626.7 L167.2,625.6 L170.0,624.5 L172.8,623.4 L175.6,622.5 L178.5,621.6 L181.3,620.8 L184.0,620.0 L186.7,619.3 L189.3,618.6 L191.9,618.0 L194.5,617.5 L197.1,617.0 L199.7,616.6 L202.3,616.3 L205.0,616.0 L207.7,615.8 L210.5,615.6 L213.3,615.5 L216.2,615.4 L219.0,615.5 L221.8,615.6 L224.7,615.7 L227.5,616.0 L230.3,616.4 L233.2,616.8 L236.1,617.4 L239.0,618.0 L241.9,618.6 L244.7,619.4 L247.4,620.2 L250.0,621.0 L252.5,621.9 L255.0,622.9 L257.4,623.9 L259.8,625.0 L262.0,626.2 L264.2,627.3 L266.2,628.4 L268.0,629.5 L269.7,630.6 L271.1,631.6 L272.5,632.7 L273.7,633.7 L274.8,634.8 L275.9,635.8 L276.9,636.9 L278.0,638.0 L279.1,639.2 L280.1,640.4 L281.2,641.7 L282.1,643.0 L283.0,644.3 L283.8,645.4 L284.5,646.3 L285.0,647.0 Q282,700 275.6,743.6 L275.6,743.6 L274.3,735.6 L271.6,727.7 L267.6,720.1 L262.2,712.8 L255.6,706.1 L247.9,700.0 L239.2,694.7 L229.6,690.1 L219.5,686.5 L208.8,683.8 L197.8,682.1 L186.7,681.5 L175.7,681.9 L164.9,683.4 L154.6,685.9 L144.8,689.3 L135.9,693.7 L127.9,698.9 L121.0,704.8 L115.3,711.5 L110.9,718.6 L107.8,726.2 L106.2,734.0 L106.0,742.0 Q118,700 128.0,662.0 Z" fill="url(#sg8)"/>
<path d="M337.5,576 L354,586 L352,590 L332,601 L307.5,615 L305,604 L307.5,596 Z" fill="#5e2296"/>
<path d="M305,606 L307.5,615 L301,622.5 L295,631 L285,645 L283,641 L292,626 L300,612 Z" fill="#d01c1a"/>
<path d="M106.0,742.0 106.0,735.6 107.0,729.3 108.9,723.1 111.7,717.1 115.3,711.5 119.8,706.1 125.0,701.2 131.0,696.7 137.6,692.7 144.8,689.3 152.6,686.5 160.7,684.3 169.2,682.7 177.9,681.8 186.7,681.5 195.6,681.9 204.4,683.0 213.1,684.7 221.5,687.1 229.6,690.1 237.3,693.7 244.5,697.8 251.1,702.4 257.0,707.4 262.2,712.8 266.6,718.6 270.2,724.6 272.9,730.8 274.7,737.2 275.6,743.6 275.6,750.3 274.6,756.8 272.8,763.3 270.0,769.5 266.4,775.4 261.9,780.9 256.7,786.1 250.7,790.7 244.1,794.8 236.9,798.4 229.2,801.4 221.1,803.7 212.6,805.3 203.9,806.3 195.1,806.6 186.2,806.1 177.3,805.0 168.7,803.2 160.2,800.7 152.1,797.6 144.4,793.9 137.2,789.6 130.6,784.9 124.7,779.6 119.5,774.0 115.1,768.0 111.5,761.7 108.7,755.3 106.9,748.7 106.0,742.0 Z" fill="#f2ec74"/>
<path d="M126.5,705.2 130.6,701.9 135.1,698.9 139.9,696.2 145.1,693.8 150.5,691.6 156.2,689.8 162.1,688.3 168.1,687.2 174.3,686.4 180.6,685.9 187.0,685.8 193.4,686.0 199.8,686.6 206.1,687.6 212.3,688.8 218.4,690.4 224.3,692.4 230.0,694.6 235.5,697.1 240.7,700.0 245.6,703.1 250.1,706.4 254.3,709.9 258.1,713.7 261.5,717.6 264.5,721.7 266.9,725.9 269.0,730.3 270.5,734.7 271.6,739.1 272.1,743.6 L272.0,752.0 268.0,765.0 250.0,774.0 230.0,779.0 208.0,778.0 186.0,773.0 165.0,764.0 148.0,753.0 136.0,741.0 129.0,730.0 124.0,716.0 Z" fill="url(#gInt)"/>
<path d="M272.0,752.0 268.0,765.0 250.0,774.0 230.0,779.0 208.0,778.0 186.0,773.0 165.0,764.0 148.0,753.0 136.0,741.0 129.0,730.0 124.0,716.0" fill="none" stroke="#b9cc58" stroke-width="2.2"/>
<path d="M272.3,750.2 271.1,755.6 269.2,760.8 266.6,765.9 263.2,770.8 259.3,775.3 254.7,779.6 249.5,783.5 243.7,787.0 237.5,790.0 230.9,792.6 223.9,794.8 216.6,796.4 209.1,797.5 201.4,798.1 193.6,798.1 185.8,797.7 178.1,796.6 170.5,795.1 163.1,793.1 155.9,790.6 149.1,787.6 142.7,784.2 136.7,780.4 131.3,776.2 126.4,771.7 122.1,766.9 118.5,761.8 115.5,756.6 113.3,751.2 111.8,745.7" fill="none" stroke="#c4d460" stroke-width="2"/>
<path d="M275.6,743.6 275.7,748.6 275.2,753.6 274.3,758.5 272.8,763.3 270.8,767.9 268.3,772.5 265.3,776.8 261.9,780.9 258.1,784.8 253.8,788.4 249.1,791.8 244.1,794.8 238.7,797.6 233.1,800.0 227.2,802.0 221.1,803.7 214.7,805.0 208.3,805.9 201.7,806.4 195.1,806.6 188.4,806.3 181.7,805.6 175.2,804.6 168.7,803.2 162.3,801.4 156.1,799.2 150.1,796.7 144.4,793.9 139.0,790.8 133.9,787.3" fill="none" stroke="#d8dc6a" stroke-width="1.5"/>
<path d="M508,447 C512,452 515,462 516,468 C508,476 496,482 478,485 C488,470 498,458 508,447 Z" fill="#ee6a14"/>
<path d="M507,444 L513,456 M507,444 C495,458 482,472 473,486 L478,512" fill="none" stroke="#5a6a40" stroke-width="1.3"/>
<path d="M516,361 L530,366 L528,377 L516,372 Z" fill="#eee9a0"/>
<path d="M154,668 L166,666 L172,680 L158,682 Z" fill="#dfe2e8"/>
<path d="M407.0,357.5 L407.5,352.5 L408.8,347.6 L411.1,342.9 L414.2,338.4 L418.2,334.2 L422.8,330.4 L428.1,327.0 L434.0,324.1 L440.3,321.8 L447.0,320.1 L454.0,319.0 L461.0,318.5 L468.0,318.7 L475.0,319.5 L481.7,321.0 L488.0,323.1 L493.9,325.7 L499.2,328.9 L503.8,332.5 L507.8,336.6 L510.9,341.0 L513.2,345.6 L514.5,350.5 L515.0,355.4" fill="none" stroke="#1e7040" stroke-width="6.2" stroke-linecap="butt"/>
<path d="M407.0,357.5 L407.5,352.5 L408.8,347.6 L411.1,342.9 L414.2,338.4 L418.2,334.2 L422.8,330.4 L428.1,327.0 L434.0,324.1 L440.3,321.8 L447.0,320.1 L454.0,319.0 L461.0,318.5 L468.0,318.7 L475.0,319.5 L481.7,321.0 L488.0,323.1 L493.9,325.7 L499.2,328.9 L503.8,332.5 L507.8,336.6 L510.9,341.0 L513.2,345.6 L514.5,350.5 L515.0,355.4" fill="none" stroke="#35a070" stroke-width="3.8" stroke-linecap="butt"/>
<path d="M409.5,407.0 L408.7,402.4 L408.8,397.5 L409.9,392.5 L411.9,387.5 L414.7,382.5 L418.4,377.7 L422.9,373.1 L428.0,368.7 L433.8,364.7 L440.0,361.2 L446.7,358.1 L453.6,355.6 L460.7,353.7 L467.8,352.4 L474.9,351.7 L481.8,351.7 L488.3,352.4 L494.4,353.7 L500.0,355.6 L505.0,358.1 L509.2,361.1 L512.7,364.7 L515.3,368.7 L517.0,373.0" fill="none" stroke="#1c6a3c" stroke-width="6.2" stroke-linecap="butt"/>
<path d="M409.5,407.0 L408.7,402.4 L408.8,397.5 L409.9,392.5 L411.9,387.5 L414.7,382.5 L418.4,377.7 L422.9,373.1 L428.0,368.7 L433.8,364.7 L440.0,361.2 L446.7,358.1 L453.6,355.6 L460.7,353.7 L467.8,352.4 L474.9,351.7 L481.8,351.7 L488.3,352.4 L494.4,353.7 L500.0,355.6 L505.0,358.1 L509.2,361.1 L512.7,364.7 L515.3,368.7 L517.0,373.0" fill="none" stroke="#2f9660" stroke-width="3.8" stroke-linecap="butt"/>
<path d="M402.3,417.8 L402.3,414.4 L403.3,411.1 L405.4,408.0 L408.4,405.1 L412.4,402.5 L417.2,400.2 L422.8,398.3 L429.1,396.8 L436.0,395.7 L443.3,395.1 L450.9,394.8 L458.8,395.1 L466.7,395.8 L474.6,396.9 L482.3,398.5 L489.6,400.5 L496.5,402.8 L502.8,405.4 L508.4,408.3 L513.2,411.4 L517.2,414.7 L520.2,418.2 L522.3,421.6 L523.3,425.1" fill="none" stroke="#1e7a4e" stroke-width="6.7" stroke-linecap="butt"/>
<path d="M402.3,417.8 L402.3,414.4 L403.3,411.1 L405.4,408.0 L408.4,405.1 L412.4,402.5 L417.2,400.2 L422.8,398.3 L429.1,396.8 L436.0,395.7 L443.3,395.1 L450.9,394.8 L458.8,395.1 L466.7,395.8 L474.6,396.9 L482.3,398.5 L489.6,400.5 L496.5,402.8 L502.8,405.4 L508.4,408.3 L513.2,411.4 L517.2,414.7 L520.2,418.2 L522.3,421.6 L523.3,425.1" fill="none" stroke="#3aaa84" stroke-width="4.3" stroke-linecap="butt"/>
<path d="M364.0,439.0 L364.8,438.6 L366.0,438.1 L367.3,437.5 L368.8,436.9 L370.4,436.2 L372.0,435.6 L373.5,435.0 L375.0,434.5 L376.3,434.1 L377.5,433.7 L378.6,433.3 L379.8,433.0 L381.0,432.7 L382.4,432.5 L384.1,432.5 L386.0,432.5 L388.3,432.6 L391.0,432.8 L393.8,433.1 L396.9,433.4 L400.0,433.9 L403.1,434.5 L406.0,435.3 L408.8,436.2 L411.3,437.4 L413.8,438.8 L416.2,440.4 L418.6,442.1 L420.9,443.9 L423.2,445.8 L425.4,447.6 L427.5,449.4 L429.6,451.2 L431.6,453.0 L433.6,454.9 L435.5,456.8 L437.3,458.7 L439.1,460.6 L440.8,462.5 L442.5,464.4 L444.1,466.3 L445.6,468.1 L447.1,469.9 L448.5,471.7 L449.8,473.5 L451.2,475.4 L452.5,477.4 L453.8,479.4 L455.0,481.5 L456.3,483.7 L457.5,486.0 L458.7,488.3 L459.9,490.7 L461.0,493.1 L462.0,495.5 L463.0,498.0 L463.9,500.5 L464.8,503.2 L465.7,505.9 L466.5,508.6 L467.2,511.3 L467.8,513.9 L468.3,516.4 L468.8,518.8 L469.0,521.0 L469.1,523.3 L469.1,525.5 L469.0,527.7 L468.8,529.6 L468.7,531.4 L468.6,532.9 L468.5,534.0" fill="none" stroke="#1e7a50" stroke-width="7.7" stroke-linecap="butt"/>
<path d="M364.0,439.0 L364.8,438.6 L366.0,438.1 L367.3,437.5 L368.8,436.9 L370.4,436.2 L372.0,435.6 L373.5,435.0 L375.0,434.5 L376.3,434.1 L377.5,433.7 L378.6,433.3 L379.8,433.0 L381.0,432.7 L382.4,432.5 L384.1,432.5 L386.0,432.5 L388.3,432.6 L391.0,432.8 L393.8,433.1 L396.9,433.4 L400.0,433.9 L403.1,434.5 L406.0,435.3 L408.8,436.2 L411.3,437.4 L413.8,438.8 L416.2,440.4 L418.6,442.1 L420.9,443.9 L423.2,445.8 L425.4,447.6 L427.5,449.4 L429.6,451.2 L431.6,453.0 L433.6,454.9 L435.5,456.8 L437.3,458.7 L439.1,460.6 L440.8,462.5 L442.5,464.4 L444.1,466.3 L445.6,468.1 L447.1,469.9 L448.5,471.7 L449.8,473.5 L451.2,475.4 L452.5,477.4 L453.8,479.4 L455.0,481.5 L456.3,483.7 L457.5,486.0 L458.7,488.3 L459.9,490.7 L461.0,493.1 L462.0,495.5 L463.0,498.0 L463.9,500.5 L464.8,503.2 L465.7,505.9 L466.5,508.6 L467.2,511.3 L467.8,513.9 L468.3,516.4 L468.8,518.8 L469.0,521.0 L469.1,523.3 L469.1,525.5 L469.0,527.7 L468.8,529.6 L468.7,531.4 L468.6,532.9 L468.5,534.0" fill="none" stroke="#38aa82" stroke-width="5.3" stroke-linecap="butt"/>
<path d="M339.5,452.0 L340.1,451.8 L340.9,451.5 L341.8,451.2 L342.8,450.8 L343.9,450.5 L345.0,450.2 L346.0,450.0 L347.0,450.0 L347.9,450.1 L348.9,450.3 L349.9,450.5 L350.8,450.9 L351.8,451.3 L352.7,451.8 L353.6,452.4 L354.4,453.0 L355.2,453.7 L355.9,454.6 L356.6,455.5 L357.3,456.5 L358.0,457.6 L358.6,458.7 L359.3,459.8 L360.0,461.0 L360.7,462.1 L361.3,463.2 L361.9,464.3 L362.6,465.4 L363.2,466.7 L363.9,468.2 L364.7,469.9 L365.6,471.9 L366.6,474.3 L367.7,477.0 L368.8,480.0 L370.1,483.1 L371.3,486.4 L372.6,489.7 L373.8,493.0 L375.0,496.2 L376.2,499.4 L377.4,502.6 L378.7,505.9 L379.9,509.1 L381.2,512.4 L382.3,515.8 L383.4,519.1 L384.4,522.5 L385.3,526.0 L386.1,529.6 L386.9,533.3 L387.6,537.0 L388.3,540.7 L388.9,544.2 L389.5,547.5 L390.0,550.6 L390.5,553.5 L391.0,556.3 L391.4,559.0 L391.9,561.6 L392.2,563.9 L392.5,565.9 L392.8,567.6 L393.0,569.0" fill="none" stroke="#1a6e46" stroke-width="9.7" stroke-linecap="butt"/>
<path d="M339.5,452.0 L340.1,451.8 L340.9,451.5 L341.8,451.2 L342.8,450.8 L343.9,450.5 L345.0,450.2 L346.0,450.0 L347.0,450.0 L347.9,450.1 L348.9,450.3 L349.9,450.5 L350.8,450.9 L351.8,451.3 L352.7,451.8 L353.6,452.4 L354.4,453.0 L355.2,453.7 L355.9,454.6 L356.6,455.5 L357.3,456.5 L358.0,457.6 L358.6,458.7 L359.3,459.8 L360.0,461.0 L360.7,462.1 L361.3,463.2 L361.9,464.3 L362.6,465.4 L363.2,466.7 L363.9,468.2 L364.7,469.9 L365.6,471.9 L366.6,474.3 L367.7,477.0 L368.8,480.0 L370.1,483.1 L371.3,486.4 L372.6,489.7 L373.8,493.0 L375.0,496.2 L376.2,499.4 L377.4,502.6 L378.7,505.9 L379.9,509.1 L381.2,512.4 L382.3,515.8 L383.4,519.1 L384.4,522.5 L385.3,526.0 L386.1,529.6 L386.9,533.3 L387.6,537.0 L388.3,540.7 L388.9,544.2 L389.5,547.5 L390.0,550.6 L390.5,553.5 L391.0,556.3 L391.4,559.0 L391.9,561.6 L392.2,563.9 L392.5,565.9 L392.8,567.6 L393.0,569.0" fill="none" stroke="#2e9e70" stroke-width="7.3" stroke-linecap="butt"/>
<path d="M303.0,471.0 L303.7,471.4 L304.6,471.8 L305.7,472.4 L306.9,473.0 L308.2,473.7 L309.5,474.4 L310.8,475.2 L312.0,476.0 L313.1,476.8 L314.2,477.5 L315.3,478.2 L316.4,479.0 L317.5,479.9 L318.6,481.0 L319.8,482.4 L321.0,484.0 L322.3,486.0 L323.6,488.3 L324.9,490.9 L326.3,493.6 L327.6,496.4 L329.0,499.3 L330.3,502.2 L331.5,505.0 L332.7,507.7 L333.8,510.5 L334.9,513.3 L336.0,516.1 L337.0,519.0 L338.0,521.8 L339.0,524.7 L340.0,527.5 L341.0,530.4 L341.9,533.3 L342.8,536.3 L343.7,539.3 L344.6,542.3 L345.4,545.1 L346.2,547.9 L347.0,550.5 L347.7,552.9 L348.5,555.2 L349.2,557.4 L349.9,559.5 L350.5,561.6 L351.1,563.6 L351.6,565.8 L352.0,568.0 L352.3,570.4 L352.6,573.1 L352.7,575.9 L352.8,578.6 L352.9,581.2 L352.9,583.6 L353.0,585.5 L353.0,587.0" fill="none" stroke="#1e7c56" stroke-width="8.7" stroke-linecap="butt"/>
<path d="M303.0,471.0 L303.7,471.4 L304.6,471.8 L305.7,472.4 L306.9,473.0 L308.2,473.7 L309.5,474.4 L310.8,475.2 L312.0,476.0 L313.1,476.8 L314.2,477.5 L315.3,478.2 L316.4,479.0 L317.5,479.9 L318.6,481.0 L319.8,482.4 L321.0,484.0 L322.3,486.0 L323.6,488.3 L324.9,490.9 L326.3,493.6 L327.6,496.4 L329.0,499.3 L330.3,502.2 L331.5,505.0 L332.7,507.7 L333.8,510.5 L334.9,513.3 L336.0,516.1 L337.0,519.0 L338.0,521.8 L339.0,524.7 L340.0,527.5 L341.0,530.4 L341.9,533.3 L342.8,536.3 L343.7,539.3 L344.6,542.3 L345.4,545.1 L346.2,547.9 L347.0,550.5 L347.7,552.9 L348.5,555.2 L349.2,557.4 L349.9,559.5 L350.5,561.6 L351.1,563.6 L351.6,565.8 L352.0,568.0 L352.3,570.4 L352.6,573.1 L352.7,575.9 L352.8,578.6 L352.9,581.2 L352.9,583.6 L353.0,585.5 L353.0,587.0" fill="none" stroke="#40b48e" stroke-width="6.3" stroke-linecap="butt"/>
<path d="M242.0,497.0 L243.1,496.6 L244.4,495.9 L246.0,495.1 L247.9,494.2 L249.8,493.4 L251.9,492.7 L254.0,492.2 L256.0,492.0 L258.1,492.0 L260.3,492.2 L262.6,492.6 L265.0,493.1 L267.4,493.7 L269.7,494.4 L271.9,495.2 L274.0,496.0 L276.0,496.9 L277.8,497.8 L279.6,498.9 L281.4,500.0 L283.1,501.2 L284.7,502.4 L286.4,503.7 L288.0,505.0 L289.6,506.3 L291.1,507.7 L292.6,509.2 L294.1,510.7 L295.6,512.2 L297.0,513.8 L298.5,515.4 L300.0,517.0 L301.5,518.7 L303.0,520.4 L304.5,522.1 L306.1,523.9 L307.6,525.7 L309.1,527.5 L310.5,529.2 L312.0,531.0 L313.4,532.8 L314.9,534.5 L316.3,536.3 L317.7,538.1 L319.1,539.9 L320.4,541.6 L321.8,543.3 L323.0,545.0 L324.2,546.6 L325.3,548.2 L326.4,549.7 L327.4,551.2 L328.4,552.8 L329.4,554.3 L330.5,555.9 L331.5,557.5 L332.6,559.2 L333.6,560.9 L334.7,562.7 L335.7,564.4 L336.8,566.2 L337.8,568.0 L338.9,569.8 L340.0,571.5 L341.2,573.3 L342.4,575.2 L343.7,577.2 L345.0,579.1 L346.3,580.9 L347.4,582.6 L348.3,584.0 L349.0,585.0" fill="none" stroke="#1e7a50" stroke-width="8.2" stroke-linecap="butt"/>
<path d="M242.0,497.0 L243.1,496.6 L244.4,495.9 L246.0,495.1 L247.9,494.2 L249.8,493.4 L251.9,492.7 L254.0,492.2 L256.0,492.0 L258.1,492.0 L260.3,492.2 L262.6,492.6 L265.0,493.1 L267.4,493.7 L269.7,494.4 L271.9,495.2 L274.0,496.0 L276.0,496.9 L277.8,497.8 L279.6,498.9 L281.4,500.0 L283.1,501.2 L284.7,502.4 L286.4,503.7 L288.0,505.0 L289.6,506.3 L291.1,507.7 L292.6,509.2 L294.1,510.7 L295.6,512.2 L297.0,513.8 L298.5,515.4 L300.0,517.0 L301.5,518.7 L303.0,520.4 L304.5,522.1 L306.1,523.9 L307.6,525.7 L309.1,527.5 L310.5,529.2 L312.0,531.0 L313.4,532.8 L314.9,534.5 L316.3,536.3 L317.7,538.1 L319.1,539.9 L320.4,541.6 L321.8,543.3 L323.0,545.0 L324.2,546.6 L325.3,548.2 L326.4,549.7 L327.4,551.2 L328.4,552.8 L329.4,554.3 L330.5,555.9 L331.5,557.5 L332.6,559.2 L333.6,560.9 L334.7,562.7 L335.7,564.4 L336.8,566.2 L337.8,568.0 L338.9,569.8 L340.0,571.5 L341.2,573.3 L342.4,575.2 L343.7,577.2 L345.0,579.1 L346.3,580.9 L347.4,582.6 L348.3,584.0 L349.0,585.0" fill="none" stroke="#3aa884" stroke-width="5.8" stroke-linecap="butt"/>
<path d="M152.0,573.0 L152.8,572.1 L153.8,570.9 L155.1,569.4 L156.4,567.8 L157.9,566.1 L159.5,564.4 L161.2,562.8 L162.8,561.4 L164.5,560.1 L166.2,558.9 L168.0,557.8 L169.8,556.6 L171.8,555.5 L173.8,554.4 L176.0,553.3 L178.2,552.2 L180.6,551.0 L183.1,549.8 L185.8,548.5 L188.5,547.2 L191.3,546.0 L194.1,544.9 L196.9,544.1 L199.7,543.5 L202.4,543.2 L205.1,543.0 L207.9,543.1 L210.6,543.3 L213.4,543.6 L216.2,544.0 L219.1,544.5 L222.0,545.0 L225.1,545.6 L228.3,546.3 L231.7,547.1 L235.1,548.0 L238.4,549.0 L241.6,550.0 L244.7,551.0 L247.5,552.0 L250.1,553.0 L252.4,554.0 L254.6,555.0 L256.8,556.1 L258.8,557.2 L260.8,558.4 L262.9,559.6 L265.0,561.0 L267.2,562.5 L269.5,564.2 L271.9,566.0 L274.2,567.9 L276.5,569.8 L278.6,571.6 L280.6,573.4 L282.5,575.0 L284.2,576.5 L285.7,577.8 L287.1,579.1 L288.4,580.4 L289.6,581.6 L290.8,582.9 L291.9,584.1 L293.0,585.5 L294.1,586.9 L295.1,588.4 L296.0,589.8 L296.9,591.3 L297.7,592.8 L298.5,594.4 L299.3,595.9 L300.0,597.5 L300.7,599.2 L301.3,601.1 L301.9,603.0 L302.4,605.0 L302.9,606.9 L303.4,608.5 L303.7,609.9 L304.0,611.0" fill="none" stroke="#16502c" stroke-width="7.2" stroke-linecap="butt"/>
<path d="M152.0,573.0 L152.8,572.1 L153.8,570.9 L155.1,569.4 L156.4,567.8 L157.9,566.1 L159.5,564.4 L161.2,562.8 L162.8,561.4 L164.5,560.1 L166.2,558.9 L168.0,557.8 L169.8,556.6 L171.8,555.5 L173.8,554.4 L176.0,553.3 L178.2,552.2 L180.6,551.0 L183.1,549.8 L185.8,548.5 L188.5,547.2 L191.3,546.0 L194.1,544.9 L196.9,544.1 L199.7,543.5 L202.4,543.2 L205.1,543.0 L207.9,543.1 L210.6,543.3 L213.4,543.6 L216.2,544.0 L219.1,544.5 L222.0,545.0 L225.1,545.6 L228.3,546.3 L231.7,547.1 L235.1,548.0 L238.4,549.0 L241.6,550.0 L244.7,551.0 L247.5,552.0 L250.1,553.0 L252.4,554.0 L254.6,555.0 L256.8,556.1 L258.8,557.2 L260.8,558.4 L262.9,559.6 L265.0,561.0 L267.2,562.5 L269.5,564.2 L271.9,566.0 L274.2,567.9 L276.5,569.8 L278.6,571.6 L280.6,573.4 L282.5,575.0 L284.2,576.5 L285.7,577.8 L287.1,579.1 L288.4,580.4 L289.6,581.6 L290.8,582.9 L291.9,584.1 L293.0,585.5 L294.1,586.9 L295.1,588.4 L296.0,589.8 L296.9,591.3 L297.7,592.8 L298.5,594.4 L299.3,595.9 L300.0,597.5 L300.7,599.2 L301.3,601.1 L301.9,603.0 L302.4,605.0 L302.9,606.9 L303.4,608.5 L303.7,609.9 L304.0,611.0" fill="none" stroke="#2a7a4a" stroke-width="4.8" stroke-linecap="butt"/>
<path d="M128.0,662.0 L129.2,660.3 L130.8,658.0 L132.7,655.3 L134.9,652.3 L137.2,649.2 L139.5,646.2 L141.8,643.4 L144.0,641.0 L146.1,639.0 L148.3,637.1 L150.4,635.3 L152.6,633.7 L154.9,632.2 L157.2,630.7 L159.5,629.3 L162.0,628.0 L164.6,626.7 L167.2,625.6 L170.0,624.5 L172.8,623.4 L175.6,622.5 L178.5,621.6 L181.3,620.8 L184.0,620.0 L186.7,619.3 L189.3,618.6 L191.9,618.0 L194.5,617.5 L197.1,617.0 L199.7,616.6 L202.3,616.3 L205.0,616.0 L207.7,615.8 L210.5,615.6 L213.3,615.5 L216.2,615.4 L219.0,615.5 L221.8,615.6 L224.7,615.7 L227.5,616.0 L230.3,616.4 L233.2,616.8 L236.1,617.4 L239.0,618.0 L241.9,618.6 L244.7,619.4 L247.4,620.2 L250.0,621.0 L252.5,621.9 L255.0,622.9 L257.4,623.9 L259.8,625.0 L262.0,626.2 L264.2,627.3 L266.2,628.4 L268.0,629.5 L269.7,630.6 L271.1,631.6 L272.5,632.7 L273.7,633.7 L274.8,634.8 L275.9,635.8 L276.9,636.9 L278.0,638.0 L279.1,639.2 L280.1,640.4 L281.2,641.7 L282.1,643.0 L283.0,644.3 L283.8,645.4 L284.5,646.3 L285.0,647.0" fill="none" stroke="#1c6a3c" stroke-width="6.7" stroke-linecap="butt"/>
<path d="M128.0,662.0 L129.2,660.3 L130.8,658.0 L132.7,655.3 L134.9,652.3 L137.2,649.2 L139.5,646.2 L141.8,643.4 L144.0,641.0 L146.1,639.0 L148.3,637.1 L150.4,635.3 L152.6,633.7 L154.9,632.2 L157.2,630.7 L159.5,629.3 L162.0,628.0 L164.6,626.7 L167.2,625.6 L170.0,624.5 L172.8,623.4 L175.6,622.5 L178.5,621.6 L181.3,620.8 L184.0,620.0 L186.7,619.3 L189.3,618.6 L191.9,618.0 L194.5,617.5 L197.1,617.0 L199.7,616.6 L202.3,616.3 L205.0,616.0 L207.7,615.8 L210.5,615.6 L213.3,615.5 L216.2,615.4 L219.0,615.5 L221.8,615.6 L224.7,615.7 L227.5,616.0 L230.3,616.4 L233.2,616.8 L236.1,617.4 L239.0,618.0 L241.9,618.6 L244.7,619.4 L247.4,620.2 L250.0,621.0 L252.5,621.9 L255.0,622.9 L257.4,623.9 L259.8,625.0 L262.0,626.2 L264.2,627.3 L266.2,628.4 L268.0,629.5 L269.7,630.6 L271.1,631.6 L272.5,632.7 L273.7,633.7 L274.8,634.8 L275.9,635.8 L276.9,636.9 L278.0,638.0 L279.1,639.2 L280.1,640.4 L281.2,641.7 L282.1,643.0 L283.0,644.3 L283.8,645.4 L284.5,646.3 L285.0,647.0" fill="none" stroke="#33985e" stroke-width="4.3" stroke-linecap="butt"/>
<path d="M108.9,755.4 107.4,750.7 106.4,746.0 106.0,741.2 106.0,736.4 106.5,731.7 107.6,727.1 109.1,722.5 111.2,718.1 113.7,713.8 116.7,709.7 120.1,705.8 124.0,702.1 128.3,698.7 132.9,695.5 137.9,692.6 143.2,690.0 148.8,687.8 154.7,685.8 160.8,684.2 167.0,683.0 173.4,682.1 179.9,681.6 186.5,681.5 193.1,681.7 199.7,682.3 206.2,683.3 212.7,684.6 219.0,686.3 225.1,688.3 231.0,690.7 236.7,693.4 242.1,696.3 247.2,699.6 252.0,703.1 256.4,706.8 260.4,710.8 263.9,715.0 267.1,719.3 269.7,723.8 271.9,728.3 273.6,733.0 274.8,737.7 275.5,742.5 275.7,747.3" fill="none" stroke="#1f7a50" stroke-width="7.5" stroke-linecap="round"/>
<path d="M108.9,755.4 107.4,750.7 106.4,746.0 106.0,741.2 106.0,736.4 106.5,731.7 107.6,727.1 109.1,722.5 111.2,718.1 113.7,713.8 116.7,709.7 120.1,705.8 124.0,702.1 128.3,698.7 132.9,695.5 137.9,692.6 143.2,690.0 148.8,687.8 154.7,685.8 160.8,684.2 167.0,683.0 173.4,682.1 179.9,681.6 186.5,681.5 193.1,681.7 199.7,682.3 206.2,683.3 212.7,684.6 219.0,686.3 225.1,688.3 231.0,690.7 236.7,693.4 242.1,696.3 247.2,699.6 252.0,703.1 256.4,706.8 260.4,710.8 263.9,715.0 267.1,719.3 269.7,723.8 271.9,728.3 273.6,733.0 274.8,737.7 275.5,742.5 275.7,747.3" fill="none" stroke="#48bc94" stroke-width="5" stroke-linecap="round"/>
<path d="M134,793 L138,822 L145,851" fill="none" stroke="#238a50" stroke-width="4.5"/>
<path d="M182,806 L184,828 L185,850" fill="none" stroke="#bcd9b0" stroke-width="2"/>
<path d="M279,718 L290,726 L292,750 L292,778" fill="none" stroke="#2f8f4a" stroke-width="3.5"/>
<path d="M283,729 L289,736 L288,749 L282,742 Z" fill="#ffffff" opacity="0.9"/>
<path d="M114,688 L121,695 L124,703" fill="none" stroke="#3aa080" stroke-width="3"/>
</g>

<!-- TENT -->
<g id="tent" stroke-linejoin="round">
<path d="M566.0,555.0 C561.7,555.5 549.0,555.5 540.0,558.0 C531.0,560.5 522.5,563.8 512.0,570.0 C501.5,576.2 489.0,584.7 477.0,595.0 C465.0,605.3 450.2,617.7 440.0,632.0 C429.8,646.3 421.3,666.3 416.0,681.0 C410.7,695.7 408.8,710.5 408.0,720.0 C407.2,729.5 409.2,733.3 411.0,738.0 C412.8,742.7 415.7,745.3 419.0,748.0 C422.3,750.7 429.0,753.0 431.0,754.0 L524,845 C528,850 531,855 531,860 C530.7,857.5 529.0,855.0 529.0,845.0 C529.0,835.0 529.7,817.5 531.0,800.0 C532.3,782.5 535.0,756.7 537.0,740.0 C539.0,723.3 540.5,716.7 543.0,700.0 C545.5,683.3 548.2,664.2 552.0,640.0 C555.8,615.8 563.7,569.2 566.0,555.0 Z" fill="url(#gTentB)"/>
<g clip-path="url(#tentBclip)">
<ellipse cx="474" cy="733.5" rx="41.5" ry="62.5" fill="#2a4aa6"/>
<path d="M420,600 L530,600 L530,728 L433,753 L420,760 Z" fill="#b81a1a" clip-path="url(#rhole)"/>
<ellipse cx="474" cy="733.5" rx="41.5" ry="62.5" fill="none" stroke="#0f5f2e" stroke-width="3"/>
</g>
<path d="M566.0,555.0 C561.7,555.5 549.0,555.5 540.0,558.0 C531.0,560.5 522.5,563.8 512.0,570.0 C501.5,576.2 489.0,584.7 477.0,595.0 C465.0,605.3 450.2,617.7 440.0,632.0 C429.8,646.3 421.3,666.3 416.0,681.0 C410.7,695.7 408.8,710.5 408.0,720.0 C407.2,729.5 409.2,733.3 411.0,738.0 C412.8,742.7 415.7,745.3 419.0,748.0 C422.3,750.7 429.0,753.0 431.0,754.0" fill="none" stroke="#0f5f2e" stroke-width="5.5" stroke-linecap="round"/>
<path d="M567.0,557.0 C570.8,556.8 576.5,551.2 590.0,556.0 C603.5,560.8 631.0,575.2 648.0,586.0 C665.0,596.8 679.3,608.8 692.0,621.0 C704.7,633.2 715.8,648.3 724.0,659.0 C732.2,669.7 736.5,676.5 741.0,685.0 C745.5,693.5 748.8,701.7 751.0,710.0 C753.2,718.3 754.0,727.0 754.0,735.0 C754.0,743.0 753.0,751.3 751.0,758.0 C749.0,764.7 747.7,768.5 742.0,775.0 C736.3,781.5 727.3,789.0 717.0,797.0 C706.7,805.0 692.7,814.5 680.0,823.0 C667.3,831.5 653.7,841.0 641.0,848.0 C628.3,855.0 614.2,861.2 604.0,865.0 C593.8,868.8 589.0,870.0 580.0,871.0 C571.0,872.0 557.5,872.3 550.0,871.0 C542.5,869.7 538.5,867.3 535.0,863.0 C531.5,858.7 529.7,855.5 529.0,845.0 C528.3,834.5 529.7,817.5 531.0,800.0 C532.3,782.5 535.0,756.7 537.0,740.0 C539.0,723.3 540.5,716.7 543.0,700.0 C545.5,683.3 548.0,663.8 552.0,640.0 C556.0,616.2 564.5,570.8 567.0,557.0 Z" fill="url(#gTentY)"/>
<path d="M567.0,557.0 C570.8,556.8 576.5,551.2 590.0,556.0 C603.5,560.8 631.0,575.2 648.0,586.0 C665.0,596.8 679.3,608.8 692.0,621.0 C704.7,633.2 715.8,648.3 724.0,659.0 C732.2,669.7 736.5,676.5 741.0,685.0 C745.5,693.5 748.8,701.7 751.0,710.0 C753.2,718.3 754.0,727.0 754.0,735.0 C754.0,743.0 753.0,751.3 751.0,758.0 C749.0,764.7 747.7,768.5 742.0,775.0 C736.3,781.5 727.3,789.0 717.0,797.0 C706.7,805.0 692.7,814.5 680.0,823.0 C667.3,831.5 653.7,841.0 641.0,848.0 C628.3,855.0 614.2,861.2 604.0,865.0 C593.8,868.8 589.0,870.0 580.0,871.0 C571.0,872.0 557.5,872.3 550.0,871.0 C542.5,869.7 538.5,867.3 535.0,863.0 C531.5,858.7 529.7,855.5 529.0,845.0 C528.3,834.5 529.7,817.5 531.0,800.0 C532.3,782.5 535.0,756.7 537.0,740.0 C539.0,723.3 540.5,716.7 543.0,700.0 C545.5,683.3 548.0,663.8 552.0,640.0 C556.0,616.2 564.5,570.8 567.0,557.0 Z" fill="none" stroke="#eef2b0" stroke-width="14" clip-path="url(#tentYclip)"/>
<path d="M567.0,557.0 C570.8,556.8 576.5,551.2 590.0,556.0 C603.5,560.8 631.0,575.2 648.0,586.0 C665.0,596.8 679.3,608.8 692.0,621.0 C704.7,633.2 715.8,648.3 724.0,659.0 C732.2,669.7 736.5,676.5 741.0,685.0 C745.5,693.5 748.8,701.7 751.0,710.0 C753.2,718.3 754.0,727.0 754.0,735.0 C754.0,743.0 753.0,751.3 751.0,758.0 C749.0,764.7 747.7,768.5 742.0,775.0 C736.3,781.5 727.3,789.0 717.0,797.0 C706.7,805.0 692.7,814.5 680.0,823.0 C667.3,831.5 653.7,841.0 641.0,848.0 C628.3,855.0 614.2,861.2 604.0,865.0 C593.8,868.8 589.0,870.0 580.0,871.0 C571.0,872.0 557.5,872.3 550.0,871.0 C542.5,869.7 538.5,867.3 535.0,863.0 C531.5,858.7 529.7,855.5 529.0,845.0 C528.3,834.5 529.7,817.5 531.0,800.0 C532.3,782.5 535.0,756.7 537.0,740.0 C539.0,723.3 540.5,716.7 543.0,700.0 C545.5,683.3 548.0,663.8 552.0,640.0 C556.0,616.2 564.5,570.8 567.0,557.0 Z" fill="none" stroke="#0f5f2e" stroke-width="7"/>
<path d="M643.5,688.6 C650.0,688.1 656.2,687.8 662.1,689.3 C668.1,690.8 674.6,693.2 679.1,697.7 C683.6,702.2 687.1,709.1 689.2,716.5 C691.2,723.8 691.5,733.7 691.4,741.9 C691.4,750.0 691.0,757.0 688.9,765.4 C686.8,773.9 683.4,784.8 678.9,792.5 C674.5,800.1 668.0,806.7 662.1,811.2 C656.2,815.8 650.9,818.4 643.5,819.8 C636.2,821.3 626.0,821.3 618.1,819.9 C610.1,818.5 601.9,816.0 596.0,811.4 C590.0,806.9 585.5,800.3 582.5,792.7 C579.4,785.0 577.9,773.9 577.6,765.5 C577.4,757.0 578.9,749.4 581.2,741.9 C583.4,734.3 587.1,726.5 591.3,720.0 C595.5,713.5 601.1,707.8 606.4,703.1 C611.7,698.5 617.0,694.5 623.2,692.0 C629.4,689.6 637.0,689.0 643.5,688.6 Z" fill="url(#gHoleB)"/>
<path d="M652,688 C664,688 676,694 684,708 C676,704 666,702 656,700 Z" fill="#0c4a2a"/>
<path d="M643.5,688.6 C650.0,688.1 656.2,687.8 662.1,689.3 C668.1,690.8 674.6,693.2 679.1,697.7 C683.6,702.2 687.1,709.1 689.2,716.5 C691.2,723.8 691.5,733.7 691.4,741.9 C691.4,750.0 691.0,757.0 688.9,765.4 C686.8,773.9 683.4,784.8 678.9,792.5 C674.5,800.1 668.0,806.7 662.1,811.2 C656.2,815.8 650.9,818.4 643.5,819.8 C636.2,821.3 626.0,821.3 618.1,819.9 C610.1,818.5 601.9,816.0 596.0,811.4 C590.0,806.9 585.5,800.3 582.5,792.7 C579.4,785.0 577.9,773.9 577.6,765.5 C577.4,757.0 578.9,749.4 581.2,741.9 C583.4,734.3 587.1,726.5 591.3,720.0 C595.5,713.5 601.1,707.8 606.4,703.1 C611.7,698.5 617.0,694.5 623.2,692.0 C629.4,689.6 637.0,689.0 643.5,688.6 Z" fill="none" stroke="#0f5f2e" stroke-width="4.5"/>
<path d="M643.75,708.25 L652.5,694.25 L663,699.5 L651.6,716 Z" fill="#c9d6ef"/>
<line x1="615.75" y1="699.5" x2="614.9" y2="737" stroke="#e06070" stroke-width="1.5"/>
<circle cx="614.9" cy="746.75" r="10.5" fill="#e8231e"/>
<path d="M569,556 C569,546 572,540 577,539 C583,539 586,546 587,556 Z" fill="#0f5f2e"/>
</g>

<!-- TEXT -->
<text x="322" y="159.5" font-family="Liberation Sans" font-weight="bold" font-size="51" fill="#27315f" textLength="451" lengthAdjust="spacingAndGlyphs">3 IN 1 Cat Tunnel</text>
<g font-family="Liberation Sans" font-size="18" fill="#1e2233" stroke="#1e2233" stroke-width="0.35">
<text x="364" y="207" textLength="339" lengthAdjust="spacing">Provides your cat perfect place for</text>
<text x="364" y="241.5" textLength="369" lengthAdjust="spacing">hide-and-seek and playing chase with</text>
<text x="364" y="277" textLength="284.5" lengthAdjust="spacing">our tent, tunnel, cube combo.</text>
</g>
<g font-family="Liberation Sans" font-size="22" fill="#111" stroke="#111" stroke-width="0.45">
<text x="22.5" y="497" font-size="23" textLength="131.5" lengthAdjust="spacingAndGlyphs">20x20x20in</text>
<text x="658" y="564.5" font-size="23" textLength="130" lengthAdjust="spacingAndGlyphs">20x20x20in</text>
<text x="366" y="618" font-size="23" textLength="67.5" lengthAdjust="spacingAndGlyphs">L:47in</text>
</g>
<line x1="113" y1="738" x2="273" y2="771" stroke="#222" stroke-width="1.2"/>
<circle cx="113" cy="738" r="3.5" fill="#111"/>
<circle cx="273" cy="771" r="3.5" fill="#111"/>
<text x="176" y="750" font-family="Liberation Sans" font-size="22" fill="#1a1010" stroke="#1a1010" stroke-width="0.5" textLength="39.5" lengthAdjust="spacingAndGlyphs" transform="translate(176 750) skewY(6) translate(-176 -750)">10in</text>
<g font-family="Liberation Sans" font-weight="bold" fill="#fff" text-anchor="middle">
<circle cx="77.5" cy="459.8" r="14.3" fill="#000" stroke="#fff" stroke-width="1.2"/>
<text x="77.5" y="466.5" font-size="18" font-style="italic" stroke="#fff" stroke-width="1">1</text>
<circle cx="251" cy="822" r="14.3" fill="#000" stroke="#fff" stroke-width="1.2"/>
<text x="251" y="828.8" font-size="18" stroke="#fff" stroke-width="1">2</text>
<circle cx="636" cy="529" r="14.3" fill="#000" stroke="#fff" stroke-width="1.2"/>
<text x="636" y="535.8" font-size="18" stroke="#fff" stroke-width="1">3</text>
</g>
</svg>
</body></html>
